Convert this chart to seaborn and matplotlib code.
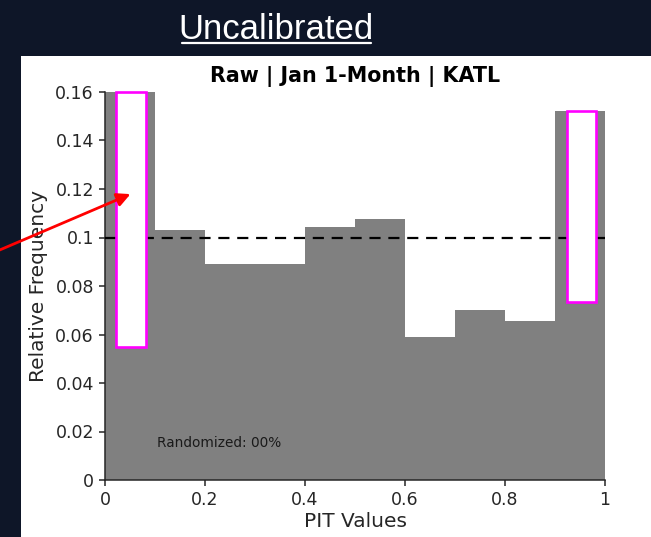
import numpy as np
import pandas as pd
import matplotlib
matplotlib.use("Agg")
import matplotlib.pyplot as plt
import seaborn as sns
from matplotlib.patches import Rectangle, FancyArrowPatch
from matplotlib.lines import Line2D

# ---- data ----
bin_edges = [0.0, 0.1, 0.2, 0.3, 0.4, 0.5, 0.6, 0.7, 0.8, 0.9, 1.0]
bin_centers = [0.05, 0.15, 0.25, 0.35, 0.45, 0.55, 0.65, 0.75, 0.85, 0.95]
rel_freq = [0.160, 0.103, 0.089, 0.089, 0.1045, 0.1075, 0.059, 0.070, 0.0655, 0.152]
reference_level = 0.1
highlight_x0 = [0.022, 0.923]
highlight_x1 = [0.082, 0.982]
highlight_y0 = [0.0547, 0.0734]
highlight_y1 = [0.160, 0.1522]
xticks = [0, 0.2, 0.4, 0.6, 0.8, 1.0]
xtick_labels = ["0", "0.2", "0.4", "0.6", "0.8", "1"]
yticks = [0, 0.02, 0.04, 0.06, 0.08, 0.10, 0.12, 0.14, 0.16]
ytick_labels = ["0", "0.02", "0.04", "0.06", "0.08", "0.1", "0.12", "0.14", "0.16"]
page_title = "Uncalibrated"
axes_title = "Raw | Jan 1-Month | KATL"
note_text = "Randomized: 00%"

df = pd.DataFrame({"pit": bin_centers, "freq": rel_freq})

sns.set_style("ticks")
plt.rcParams["font.family"] = ["DejaVu Sans"]

W, H = 651, 537
fig = plt.figure(figsize=(W / 100, H / 100), dpi=100)
fig.patch.set_facecolor("#0e1628")

# white panel (behind the axes)
fig.patches.append(Rectangle((21 / W, 0), 1 - 21 / W, (H - 56) / H,
                             transform=fig.transFigure, facecolor="white",
                             edgecolor="none", zorder=-5))

ax = fig.add_axes([105 / W, (H - 480) / H, 500 / W, 388 / H])
ax.set_zorder(2)
ax.set_facecolor("white")

sns.histplot(data=df, x="pit", weights="freq", bins=bin_edges, ax=ax,
             color="#808080", alpha=1.0, linewidth=0, edgecolor="none")

ax.axhline(reference_level, color="black", lw=1.6, ls=(0, (5, 3.5)), zorder=3)

for x0, x1, y0, y1 in zip(highlight_x0, highlight_x1, highlight_y0, highlight_y1):
    ax.add_patch(Rectangle((x0, y0), x1 - x0, y1 - y0, facecolor="white",
                           edgecolor="#ff00ff", lw=1.9, zorder=4, clip_on=False))

ax.set_xlim(0, 1)
ax.set_ylim(0, 0.16)
ax.set_xticks(xticks)
ax.set_xticklabels(xtick_labels)
ax.set_yticks(yticks)
ax.set_yticklabels(ytick_labels)
ax.tick_params(labelsize=12.5, length=4.5, width=1.1, colors="#262626")
for s in ["left", "bottom"]:
    ax.spines[s].set_color("#262626")
    ax.spines[s].set_linewidth(1.1)
sns.despine(ax=ax)

ax.set_xlabel("PIT Values", fontsize=14.5, color="#262626", labelpad=2)
ax.set_ylabel("Relative Frequency", fontsize=14.5, color="#262626", labelpad=5)
ax.set_title(axes_title, fontsize=14.9, fontweight="bold", color="black", pad=7)

ax.text(0.104, 0.0153, note_text, fontsize=9.8, color="#1a1a1a", va="center", ha="left")

# page title
fig.text(276 / W, (H - 39) / H, page_title, color="white", fontsize=25,
         family=["Liberation Sans"], ha="center", va="baseline")
fig.add_artist(Line2D([182 / W, 371 / W], [(H - 43) / H, (H - 43) / H],
                      transform=fig.transFigure, color="white", lw=1.6))

# red arrow
arr = FancyArrowPatch((-5, H - 252), (133, H - 193), transform=None,
                      arrowstyle="-|>", mutation_scale=20, color="#ff0000",
                      lw=2.0, zorder=10)
fig.add_artist(arr)

fig.savefig("out.png", dpi=100, facecolor=fig.get_facecolor())
